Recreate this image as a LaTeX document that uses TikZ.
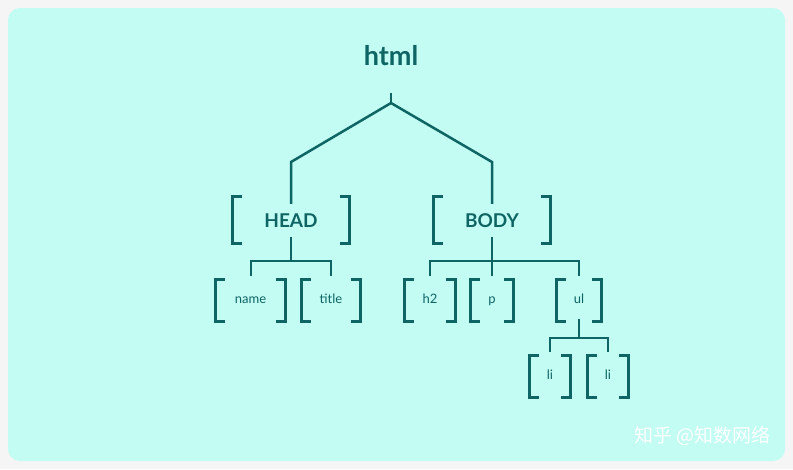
\documentclass[tikz,border=0pt]{standalone}
\usepackage{fontspec}
\setmainfont{Lato}
\newfontfamily\cjk{Noto Sans CJK SC}
\definecolor{bg}{HTML}{C2FCF3}
\definecolor{tl}{HTML}{0F6464}
\newcommand{\brk}[1]{%
  \draw[tl,line width=3pt] ([xshift=9pt]#1.north west) -| (#1.south west) -- ++(9pt,0);
  \draw[tl,line width=3pt] ([xshift=-9pt]#1.north east) -| (#1.south east) -- ++(-9pt,0);}
\begin{document}
\begin{tikzpicture}[x=1pt,y=-1pt,
  big/.style={inner sep=0,minimum width=#1,minimum height=46pt,text height=14pt,text depth=0pt,font=\bfseries\fontsize{19}{20}\selectfont,text=tl},
  small/.style={inner sep=0,minimum width=#1,minimum height=41pt,text height=9pt,text depth=3pt,font=\fontsize{13}{14}\selectfont,text=tl},
  con/.style={tl,line width=2.5pt}]
\useasboundingbox (0,0) rectangle (793,469);
\fill[white!96!black] (0,0) rectangle (793,469);
\fill[bg,rounded corners=12pt] (8,8) rectangle (785,461);
\node[font=\bfseries\fontsize{27}{28}\selectfont,text=tl] (html) at (391,56) {html};
\node[big=116pt] (head) at (291,220) {HEAD};
\node[big=116pt] (body) at (492,220) {BODY};
\node[small=69pt] (name) at (250.5,300.5) {name};
\node[small=58pt] (title) at (331,300.5) {title};
\node[small=50pt] (h2) at (430,300.5) {h2};
\node[small=42pt] (p) at (492,300.5) {p};
\node[small=44pt] (ul) at (579,300.5) {ul};
\node[small=40pt] (li1) at (550,376.5) {li};
\node[small=40pt] (li2) at (608,376.5) {li};
\foreach \n in {head,body,name,title,h2,p,ul,li1,li2} {\brk{\n}}
\coordinate (t) at (391,93);
\coordinate (tb) at (391,103);
\draw[con] (t) -- (tb);
\draw[con] (tb) -- (291,162) -- ([yshift=-7pt]head.north);
\draw[con] (tb) -- (492,162) -- ([yshift=-7pt]body.north);
\draw[con] ([yshift=6pt]head.south) -- (291,261);
\draw[con] (251,276) |- (331,261) -- (331,276);
\draw[con] ([yshift=6pt]body.south) -- (492,276);
\draw[con] (430,276) |- (579,261) -- (579,276);
\draw[con] ([yshift=2pt]ul.south) -- (579,338);
\draw[con] (550,352) |- (608,338) -- (608,352);
\node[text=white,font=\cjk\fontsize{19}{20}\selectfont,anchor=east] (wm) at (774,436) {知乎 @知数网络};
\end{tikzpicture}
\end{document}
